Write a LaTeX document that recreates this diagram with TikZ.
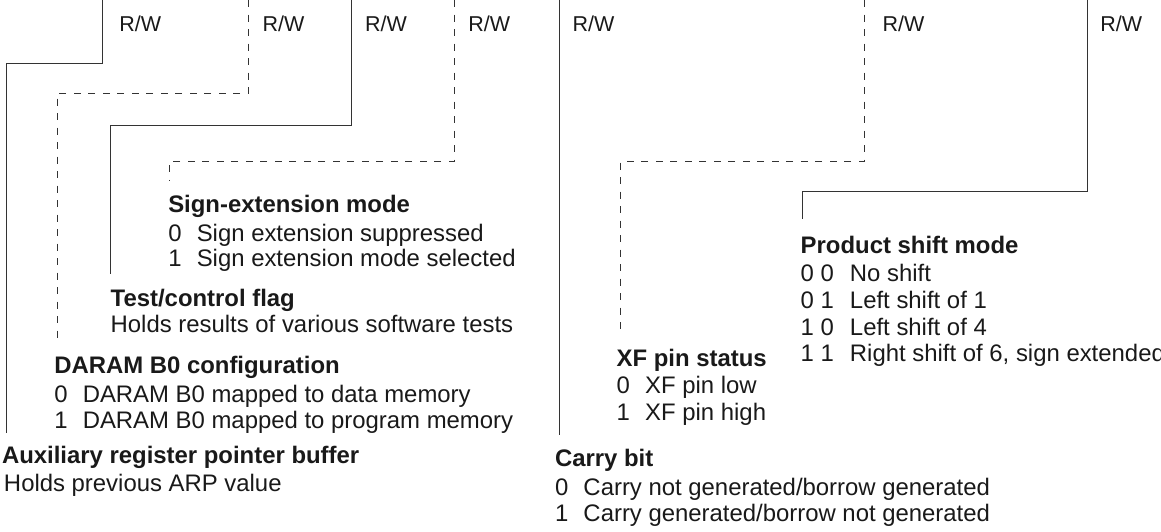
\documentclass[tikz,border=0pt]{standalone}
\usepackage{fontspec}
\setmainfont{Liberation Sans}
\newcommand{\itm}[2]{\makebox[28.5pt][l]{#1}#2}
\newcommand{\itmw}[2]{\makebox[49.3pt][l]{#1}#2}
\begin{document}
\begin{tikzpicture}[x=1pt,y=-1pt,
  txt/.style={anchor=base west,inner sep=0pt,outer sep=0pt,text=black!90,font=\fontsize{23.9}{26}\selectfont},
  ttl/.style={txt,font=\fontsize{23.9}{26}\selectfont\bfseries},
  rwlbl/.style={txt,font=\fontsize{21.5}{26}\selectfont},
  solidline/.style={line width=0.9pt,draw=black!80},
  dashline/.style={line width=0.9pt,draw=black!80,dash pattern=on 7pt off 7.5pt}]
\useasboundingbox (0,0) rectangle (1161,531);

% R/W labels
\node[rwlbl] (rw1) at (119.3,31.7) {R/W};
\node[rwlbl] (rw2) at (262.7,31.7) {R/W};
\node[rwlbl] (rw3) at (365,31.7) {R/W};
\node[rwlbl] (rw4) at (468.3,31.7) {R/W};
\node[rwlbl] (rw5) at (572.7,31.7) {R/W};
\node[rwlbl] (rw6) at (882.7,31.7) {R/W};
\node[rwlbl] (rw7) at (1100.3,31.7) {R/W};

% Sign-extension mode
\node[ttl] (sxm) at (168.3,212.3) {Sign-extension mode};
\node[txt] (sxm0) at (168.3,241) {\itm{0}{Sign extension suppressed}};
\node[txt] (sxm1) at (168.3,266.7) {\itm{1}{Sign extension mode selected}};

% Test/control flag
\node[ttl] (tc) at (110.7,306.7) {Test/control flag};
\node[txt] (tc0) at (110.7,332) {Holds results of various software tests};

% DARAM B0
\node[ttl] (cnf) at (54.3,373.3) {DARAM B0 configuration};
\node[txt] (cnf0) at (54.3,402.3) {\itm{0}{DARAM B0 mapped to data memory}};
\node[txt] (cnf1) at (54.3,428.7) {\itm{1}{DARAM B0 mapped to program memory}};

% ARB
\node[ttl] (arb) at (2,463.3) {Auxiliary register pointer buffer};
\node[txt] (arb0) at (4,491.7) {Holds previous ARP value};

% XF
\node[ttl] (xf) at (616.7,366.7) {XF pin status};
\node[txt] (xf0) at (616.7,393.3) {\itm{0}{XF pin low}};
\node[txt] (xf1) at (616.7,420) {\itm{1}{XF pin high}};

% Carry
\node[ttl] (c) at (555,466.7) {Carry bit};
\node[txt] (c0) at (555,495) {\itm{0}{Carry not generated/borrow generated}};
\node[txt] (c1) at (555,521.7) {\itm{1}{Carry generated/borrow not generated}};

% PM
\node[ttl] (pm) at (800.7,253.3) {Product shift mode};
\node[txt] (pm0) at (800.7,281.7) {\itmw{0 0}{No shift}};
\node[txt] (pm1) at (800.7,308.3) {\itmw{0 1}{Left shift of 1}};
\node[txt] (pm2) at (800.7,335) {\itmw{1 0}{Left shift of 4}};
\node[txt] (pm3) at (800.7,361.7) {\itmw{1 1}{Right shift of 6, sign extended}};

% connector ends
\coordinate (t1) at (102.7,0);   \coordinate (e1) at (6,432.7);
\coordinate (t2) at (248.7,0);   \coordinate (e2) at (57.3,340);
\coordinate (t3) at (351.7,0);   \coordinate (e3) at (110.7,274.3);
\coordinate (t4) at (454,0);     \coordinate (e4) at (169.8,181);
\coordinate (t5) at (559.3,0);   \coordinate (e5) at (559.3,435);
\coordinate (t6) at (864,0);     \coordinate (e6) at (620.7,336.7);
\coordinate (t7) at (1087,0);    \coordinate (e7) at (802.7,219.3);

\draw[solidline] (t1) -- ++(0,63.3) -| (e1);
\draw[dashline]  (t2) -- ++(0,93) -| (e2);
\draw[solidline] (t3) -- ++(0,125.5) -| (e3);
\draw[dashline]  (t4) -- ++(0,161) -| (e4);
\draw[solidline] (t5) -- (e5);
\draw[dashline]  (t6) -- ++(0,161) -| (e6);
\draw[solidline] (t7) -- ++(0,191.7) -| (e7);
\end{tikzpicture}
\end{document}
